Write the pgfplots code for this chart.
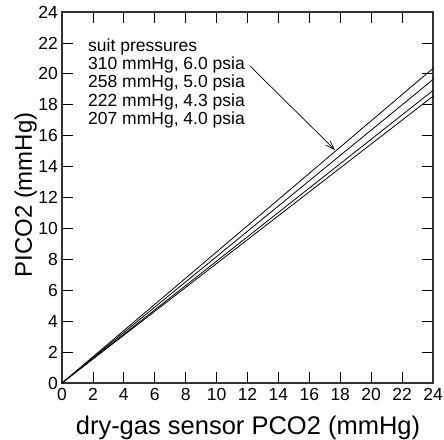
\documentclass[border=0pt]{standalone}
\usepackage{pgfplots}
\pgfplotsset{compat=1.18}
\usepackage{fontspec}
\setmainfont{Liberation Sans}
\usetikzlibrary{arrows.meta}
\begin{document}
\begin{tikzpicture}
\begin{axis}[
  at={(0pt,0pt)}, anchor=south west,
  scale only axis, width=371pt, height=371pt,
  xmin=0, xmax=24, ymin=0, ymax=24,
  xtick={0,2,...,24}, ytick={0,2,...,24},
  tick align=inside, major tick length=11pt,
  tick style={black, line width=0.8pt},
  axis line style={black!80, line width=1.2pt},
  /pgf/number format/assume math mode=true,
  ticklabel style={font=\fontsize{17.5}{17.5}\selectfont},
  xticklabel style={inner sep=2pt, yshift=-3pt},
  yticklabel style={inner sep=2pt, xshift=-2pt},
  clip=false,
]
\addplot[black, line width=0.8pt] coordinates {(0,0) (24,20.35)};
\addplot[black, line width=0.8pt] coordinates {(0,0) (24,19.63)};
\addplot[black, line width=0.8pt] coordinates {(0,0) (24,18.92)};
\addplot[black, line width=0.8pt] coordinates {(0,0) (24,18.55)};
\end{axis}
\node[anchor=base west, align=left, inner sep=0pt, font=\fontsize{17.5}{18.3}\selectfont]
  at (26pt,258.6pt) {suit pressures\\310 mmHg, 6.0 psia\\258 mmHg, 5.0 psia\\222 mmHg, 4.3 psia\\207 mmHg, 4.0 psia};
\draw[black, line width=0.7pt, -{Straight Barb[length=9pt, width=6pt]}]
  (188pt,317pt) -- (273pt,233pt);
\node[anchor=base, inner sep=0pt, font=\fontsize{25.5}{25.5}\selectfont]
  at (186pt,-51pt) {dry-gas sensor PCO2 (mmHg)};
\node[anchor=base, rotate=90, inner sep=0pt, font=\fontsize{24}{24}\selectfont]
  at (-30pt,188pt) {PICO2 (mmHg)};
\pgfresetboundingbox
\path (-62pt,-56pt) rectangle (382pt,383pt);
\end{tikzpicture}
\end{document}
